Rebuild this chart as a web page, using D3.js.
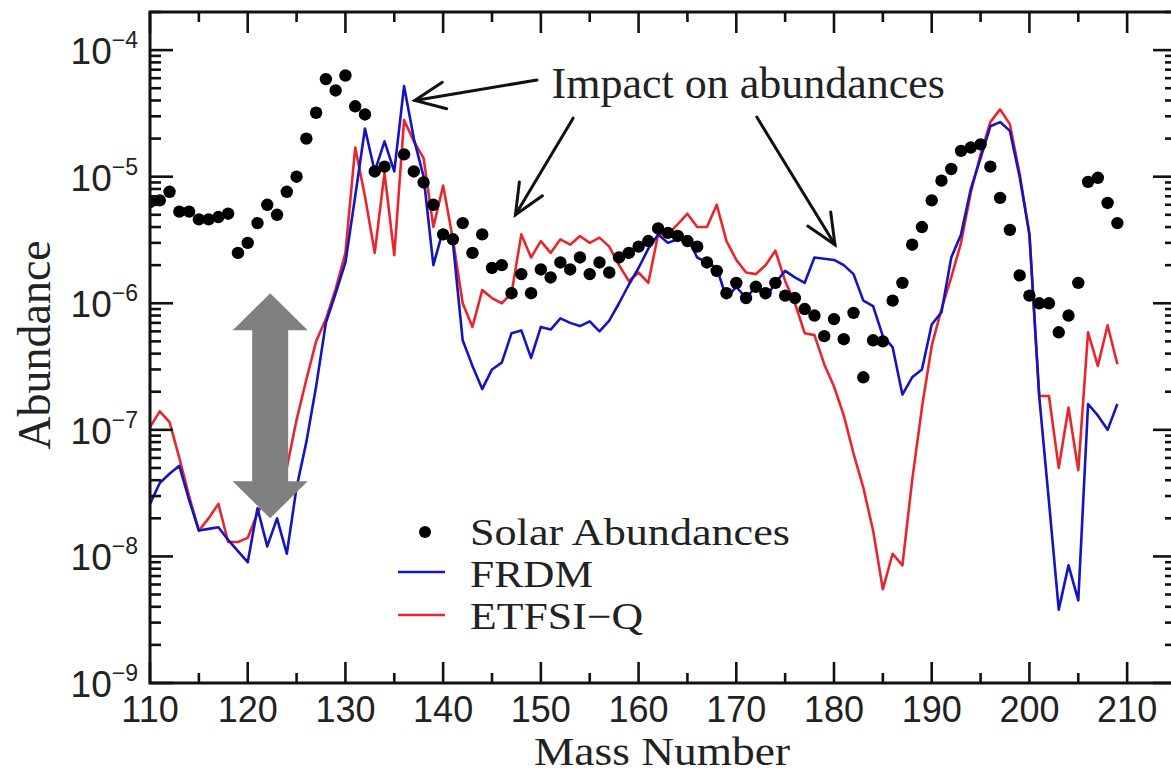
<!DOCTYPE html>
<html><head><meta charset="utf-8">
<script src="https://cdn.jsdelivr.net/npm/d3@7"></script>
<style>
html,body{margin:0;padding:0;background:#fff;}
svg{display:block;}
</style></head>
<body>
<svg id="chart" width="1171" height="774"></svg>
<script>
// Mass numbers of the model calculations
const massNumbers = [110,111,112,113,114,115,116,117,118,119,120,121,122,123,124,125,126,127,128,129,
  130,131,132,133,134,135,136,137,138,139,140,141,142,143,144,145,146,147,148,149,
  150,151,152,153,154,155,156,157,158,159,160,161,162,163,164,165,166,167,168,169,
  170,171,172,173,174,175,176,177,178,179,180,181,182,183,184,185,186,187,188,189,
  190,191,192,193,194,195,196,197,198,199,200,201,202,203,204,205,206,207,208,209];

// FRDM mass model abundances
const frdm = [2.6e-8,3.8e-8,4.5e-8,5.2e-8,2.8e-8,1.6e-8,1.65e-8,1.7e-8,1.35e-8,1.1e-8,
  9e-9,2.4e-8,1.2e-8,2.0e-8,1.05e-8,3.5e-8,8e-8,2.2e-7,7e-7,1.2e-6,
  2.1e-6,7e-6,2.4e-5,1.1e-5,1.9e-5,1.1e-5,5.2e-5,2.0e-5,1.0e-5,2.0e-6,
  3.8e-6,3.0e-6,5.1e-7,3.2e-7,2.1e-7,3.0e-7,3.4e-7,5.8e-7,6.1e-7,3.7e-7,
  6.5e-7,6.2e-7,7.6e-7,7.0e-7,6.6e-7,7.2e-7,6.0e-7,7.3e-7,1.0e-6,1.4e-6,
  1.9e-6,2.7e-6,3.5e-6,3.0e-6,3.2e-6,3.3e-6,2.3e-6,2.1e-6,1.9e-6,1.1e-6,
  1.35e-6,1.1e-6,1.35e-6,1.1e-6,1.45e-6,1.8e-6,1.6e-6,1.45e-6,2.3e-6,2.25e-6,
  2.2e-6,2.0e-6,1.7e-6,1.05e-6,9.5e-7,5.5e-7,4.5e-7,1.9e-7,2.6e-7,3.0e-7,
  6.8e-7,8.5e-7,2.3e-6,3.5e-6,8e-6,1.4e-5,2.5e-5,2.7e-5,2.3e-5,1.0e-5,
  3.5e-6,1.85e-7,2.7e-8,3.8e-9,8.5e-9,4.5e-9,1.6e-7,1.3e-7,1.0e-7,1.6e-7];

// ETFSI-Q mass model abundances
const etfsiq = [1.05e-7,1.4e-7,1.15e-7,6e-8,3e-8,1.6e-8,2.0e-8,2.6e-8,1.3e-8,1.3e-8,
  1.4e-8,2.2e-8,3e-8,4e-8,5e-8,1.2e-7,2.5e-7,5e-7,7.5e-7,1.3e-6,
  2.5e-6,1.7e-5,7e-6,2.5e-6,1.07e-5,2.4e-6,2.8e-5,1.9e-5,1.4e-5,4.0e-6,
  8.5e-6,3.2e-6,1.0e-6,6.5e-7,1.27e-6,1.1e-6,1.0e-6,1.2e-6,3.5e-6,2.3e-6,
  3.1e-6,2.5e-6,3.2e-6,2.9e-6,3.4e-6,3.0e-6,3.3e-6,2.8e-6,2.0e-6,1.5e-6,
  1.75e-6,1.45e-6,3.5e-6,3.5e-6,4.2e-6,5.1e-6,4.0e-6,4.0e-6,6.0e-6,3.1e-6,
  2.2e-6,1.75e-6,1.7e-6,2.0e-6,2.6e-6,1.5e-6,1.0e-6,5.8e-7,5.6e-7,3.3e-7,
  2.2e-7,1.3e-7,6.5e-8,3.5e-8,1.6e-8,5.5e-9,1.05e-8,8.5e-9,4.0e-8,1.5e-7,
  4.6e-7,9e-7,1.6e-6,3.0e-6,7.5e-6,1.5e-5,2.7e-5,3.4e-5,2.6e-5,1.05e-5,
  3.5e-6,1.85e-7,1.85e-7,5e-8,1.5e-7,4.8e-8,5.9e-7,3.2e-7,6.7e-7,3.3e-7];

// Solar r-process abundances
const solarMass = [110,111,112,113,114,115,116,117,118,119,120,121,122,123,124,125,126,127,128,129,
  130,131,132,133,134,136,137,138,139,140,141,142,143,144,145,146,147,148,149,
  150,151,152,153,154,155,156,157,158,159,160,161,162,163,164,165,166,167,168,169,
  170,171,172,173,174,175,176,177,178,179,180,181,182,183,184,185,186,187,188,189,
  190,191,192,193,194,195,196,197,198,199,200,201,202,203,204,205,206,207,208,209];
const solarAbund = [6.3e-6,6.5e-6,7.6e-6,5.3e-6,5.3e-6,4.6e-6,4.6e-6,4.8e-6,5.1e-6,2.5e-6,
  3.0e-6,4.3e-6,6.0e-6,5.0e-6,7.6e-6,1.0e-5,2.0e-5,3.2e-5,5.9e-5,4.8e-5,
  6.3e-5,3.6e-5,3.1e-5,1.1e-5,1.2e-5,1.5e-5,1.1e-5,9e-6,6e-6,3.5e-6,3.2e-6,
  4.3e-6,2.5e-6,3.5e-6,1.9e-6,2.0e-6,1.2e-6,1.7e-6,1.2e-6,
  1.85e-6,1.6e-6,2.1e-6,1.85e-6,2.3e-6,1.7e-6,2.1e-6,1.75e-6,2.3e-6,2.5e-6,
  2.8e-6,3.1e-6,3.9e-6,3.6e-6,3.4e-6,3.1e-6,2.8e-6,2.1e-6,1.8e-6,1.2e-6,
  1.45e-6,1.1e-6,1.35e-6,1.2e-6,1.45e-6,1.15e-6,1.1e-6,9e-7,8e-7,5.5e-7,
  7.5e-7,5.2e-7,8.4e-7,2.6e-7,5.1e-7,5.0e-7,1.05e-6,1.45e-6,2.9e-6,4.0e-6,
  6.5e-6,9.3e-6,1.15e-5,1.6e-5,1.7e-5,1.8e-5,1.2e-5,6.8e-6,3.8e-6,1.66e-6,
  1.15e-6,1.0e-6,1.0e-6,5.9e-7,8e-7,1.45e-6,9.1e-6,9.8e-6,6.2e-6,4.3e-6];

const xTickLabels = ["110","120","130","140","150","160","170","180","190","200","210"];
const yTickExponents = ["−9","−8","−7","−6","−5","−4"];
const seriesNames = ["Solar Abundances","FRDM","ETFSI−Q"];
const seriesColors = ["#000000","#1414c0","#e8262e"];

const svg = d3.select("#chart");
const W = 1171, H = 774;
const plot = {left:150, right:1176, top:12, bottom:683};

const x = d3.scaleLinear().domain([110,215]).range([plot.left, plot.right]);
const y = d3.scaleLog().domain([1e-9, 2e-4]).range([plot.bottom, plot.top]);

svg.append("rect").attr("width",W).attr("height",H).attr("fill","#fff");

svg.append("defs").append("clipPath").attr("id","clip")
  .append("rect").attr("x",plot.left).attr("y",plot.top)
  .attr("width",plot.right-plot.left).attr("height",plot.bottom-plot.top);

const sansFont = "'Liberation Sans', Arial, Helvetica, sans-serif";
const serifFont = "'Liberation Serif', 'Times New Roman', Times, serif";

// model curves
const line = d3.line().x(d => x(d[0])).y(d => y(d[1]));
const gPlot = svg.append("g").attr("clip-path","url(#clip)");
gPlot.append("path").datum(massNumbers.map((m,i)=>[m,etfsiq[i]]))
  .attr("d",line).attr("fill","none").attr("stroke",seriesColors[2])
  .attr("stroke-width",2.6).attr("stroke-linejoin","round");
gPlot.append("path").datum(massNumbers.map((m,i)=>[m,frdm[i]]))
  .attr("d",line).attr("fill","none").attr("stroke",seriesColors[1])
  .attr("stroke-width",2.6).attr("stroke-linejoin","round");

// solar abundance points
gPlot.selectAll("circle.solar").data(solarMass.map((m,i)=>[m,solarAbund[i]]))
  .enter().append("circle").attr("class","solar")
  .attr("cx",d=>x(d[0])).attr("cy",d=>y(d[1])).attr("r",6.2).attr("fill","#000");

// frame
svg.append("rect").attr("x",plot.left).attr("y",plot.top)
  .attr("width",plot.right-plot.left).attr("height",plot.bottom-plot.top)
  .attr("fill","none").attr("stroke","#111").attr("stroke-width",3);

// x ticks (bottom and top, pointing inward)
const gAxes = svg.append("g").attr("stroke","#111").attr("stroke-width",2.6);
x.ticks(21).forEach(t => {
  const major = t % 10 === 0;
  const len = major ? 21 : 10;
  gAxes.append("line").attr("x1",x(t)).attr("x2",x(t))
    .attr("y1",plot.bottom).attr("y2",plot.bottom-len);
  gAxes.append("line").attr("x1",x(t)).attr("x2",x(t))
    .attr("y1",plot.top).attr("y2",plot.top+len);
});
// y ticks (left and right, pointing inward)
y.ticks().forEach(t => {
  const mant = t / Math.pow(10, Math.floor(Math.log10(t)+1e-9));
  const major = Math.abs(mant-1) < 1e-6;
  const len = major ? 23 : 11;
  gAxes.append("line").attr("x1",plot.left).attr("x2",plot.left+len)
    .attr("y1",y(t)).attr("y2",y(t));
  gAxes.append("line").attr("x1",plot.right).attr("x2",plot.right-len)
    .attr("y1",y(t)).attr("y2",y(t));
});

// x tick labels
xTickLabels.forEach(lbl => {
  svg.append("text").attr("x",x(+lbl)).attr("y",plot.bottom+38.5)
    .attr("text-anchor","middle").attr("font-family",sansFont)
    .attr("font-size",36).attr("fill","#222").text(lbl);
});
// y tick labels 10^n
yTickExponents.forEach(e => {
  const v = Math.pow(10, -(+e.replace("−","")));
  const t = svg.append("text").attr("x",plot.left-12).attr("y",y(v)+14)
    .attr("text-anchor","end").attr("font-family",sansFont).attr("fill","#222");
  t.append("tspan").attr("font-size",37).text("10");
  t.append("tspan").attr("font-size",23).attr("dy",-16).text(e);
});

// axis titles
svg.append("text").attr("x",662).attr("y",765)
  .attr("text-anchor","middle").attr("font-family",serifFont)
  .attr("font-size",40).attr("textLength",256).attr("lengthAdjust","spacingAndGlyphs")
  .attr("fill","#222").text("Mass Number");
svg.append("text").attr("transform","translate(50,345) rotate(-90)")
  .attr("text-anchor","middle").attr("font-family",serifFont)
  .attr("font-size",46).attr("fill","#222").text("Abundance");

// legend
const legendWidths = [320, 123, 173];
const lg = svg.append("g").attr("font-family",serifFont).attr("font-size",37.5).attr("fill","#222");
lg.append("circle").attr("cx",425).attr("cy",532).attr("r",6).attr("fill",seriesColors[0]);
lg.append("line").attr("x1",398).attr("x2",445).attr("y1",572).attr("y2",572)
  .attr("stroke",seriesColors[1]).attr("stroke-width",2.6);
lg.append("line").attr("x1",398).attr("x2",445).attr("y1",615).attr("y2",615)
  .attr("stroke",seriesColors[2]).attr("stroke-width",2.6);
seriesNames.forEach((name,i) => {
  lg.append("text").attr("x",470).attr("y",545 + i*42)
    .attr("textLength",legendWidths[i]).attr("lengthAdjust","spacingAndGlyphs")
    .text(name);
});

// annotation: text and arrows (positions in data units)
svg.append("text").attr("x",x(151.1)).attr("y",y(4.2e-5))
  .attr("font-family",serifFont).attr("font-size",44).attr("fill","#222")
  .text("Impact on abundances");

const arrows = [
  {from:[149.6,5.8e-5], to:[137.1,4.0e-5]},
  {from:[153.3,2.9e-5], to:[147.4,5.0e-6]},
  {from:[172.1,2.96e-5], to:[180.1,2.9e-6]}
];
const ga = svg.append("g").attr("stroke","#111").attr("stroke-width",3)
  .attr("fill","none").attr("stroke-linecap","round");
arrows.forEach(a => {
  const x1 = x(a.from[0]), y1 = y(a.from[1]), x2 = x(a.to[0]), y2 = y(a.to[1]);
  ga.append("line").attr("x1",x1).attr("y1",y1).attr("x2",x2).attr("y2",y2);
  const ang = Math.atan2(y1-y2, x1-x2);
  const L = 33, spread = 24*Math.PI/180;
  const p1 = [x2+L*Math.cos(ang+spread), y2+L*Math.sin(ang+spread)];
  const p2 = [x2+L*Math.cos(ang-spread), y2+L*Math.sin(ang-spread)];
  ga.append("path").attr("d",`M${p1[0]},${p1[1]}L${x2},${y2}L${p2[0]},${p2[1]}`);
});

// gray double-headed arrow marking the spread between models
const dbl = {mass:122.3, top:1.2e-6, bottom:2.0e-8};
const cx = x(dbl.mass), yt = y(dbl.top), yb = y(dbl.bottom);
const head = 37, headHalf = 37.5, shaftHalf = 18;
svg.append("path").attr("fill","#808080").attr("d",
  `M${cx},${yt} L${cx+headHalf},${yt+head} L${cx+shaftHalf},${yt+head}
   L${cx+shaftHalf},${yb-head} L${cx+headHalf},${yb-head} L${cx},${yb}
   L${cx-headHalf},${yb-head} L${cx-shaftHalf},${yb-head} L${cx-shaftHalf},${yt+head}
   L${cx-headHalf},${yt+head} Z`);
</script>
</body></html>
